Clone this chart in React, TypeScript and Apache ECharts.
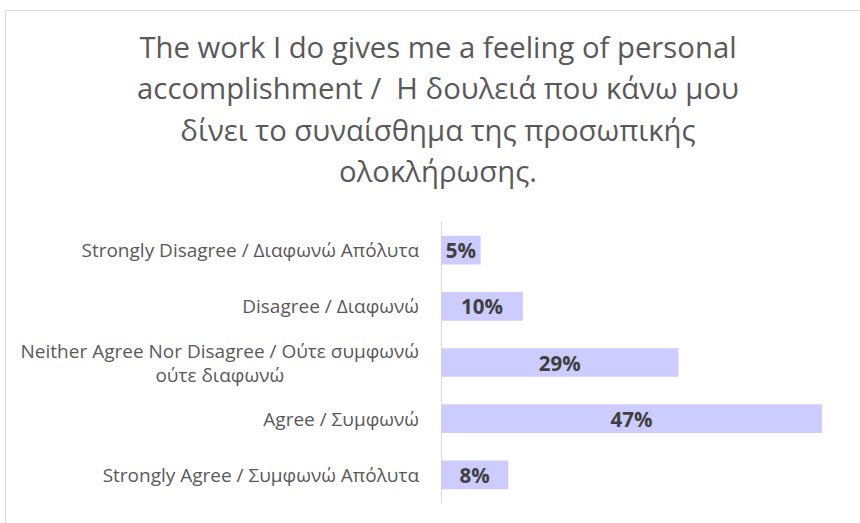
import React, { useEffect, useRef } from "react";
import * as echarts from "echarts";

const titleLines = [
  "The work I do gives me a feeling of personal",
  "accomplishment /  Η δουλειά που κάνω μου",
  "δίνει το συναίσθημα της προσωπικής",
  "ολοκλήρωσης.",
];

const categories = [
  "Strongly Disagree / Διαφωνώ Απόλυτα",
  "Disagree / Διαφωνώ",
  "Neither Agree Nor Disagree / Ούτε συμφωνώ\nούτε διαφωνώ",
  "Agree / Συμφωνώ",
  "Strongly Agree / Συμφωνώ Απόλυτα",
];

const values = [4.9, 10.1, 29.3, 47.0, 8.3];

const FONT = "Open Sans";

export default function App() {
  const ref = useRef<HTMLDivElement>(null);
  useEffect(() => {
    if (!ref.current) return;
    const chart = echarts.init(ref.current, null, { renderer: "svg" });
    chart.setOption({
      animation: false,
      backgroundColor: "#ffffff",
      graphic: [
        {
          type: "rect",
          shape: { x: 5.5, y: 10.5, width: 900, height: 600 },
          style: { fill: "none", stroke: "#d9d9d9", lineWidth: 1 },
          silent: true,
          z: -10,
        },
      ],
      title: {
        text: titleLines.join("\n"),
        left: 433,
        textAlign: "center",
        top: 21,
        textStyle: {
          fontFamily: FONT,
          fontSize: 29.3,
          fontWeight: "normal",
          color: "#595959",
          lineHeight: 41.5,
        },
      },
      grid: { left: 441, right: 38, top: 222, bottom: 20, containLabel: false },
      xAxis: {
        type: "value",
        min: 0,
        max: 47,
        show: false,
        splitLine: { show: false },
      },
      yAxis: {
        type: "category",
        data: categories,
        inverse: true,
        axisLine: { show: true, lineStyle: { color: "#d9d9d9", width: 1 } },
        axisTick: { show: false },
        axisLabel: {
          margin: 22,
          fontFamily: FONT,
          fontSize: 19,
          color: "#595959",
          formatter: (v: string) =>
            v
              .split("\n")
              .map((l) => "{a|" + l + "}")
              .join("\n"),
          rich: {
            a: {
              fontFamily: FONT,
              fontSize: 19,
              color: "#595959",
              align: "center",
              lineHeight: 24,
            },
          },
        },
      },
      series: [
        {
          type: "bar",
          data: values,
          barCategoryGap: "49%",
          itemStyle: { color: "#ccccff" },
          label: {
            show: true,
            position: "inside",
            fontFamily: FONT,
            fontWeight: "bold",
            fontSize: 20.5,
            color: "#404040",
            formatter: (p: any) => Math.round(p.value) + "%",
          },
        },
      ],
    });
    return () => chart.dispose();
  }, []);
  return (
    <div
      ref={ref}
      style={{ position: "fixed", left: 0, top: 0, width: 860, height: 523 }}
    />
  );
}
